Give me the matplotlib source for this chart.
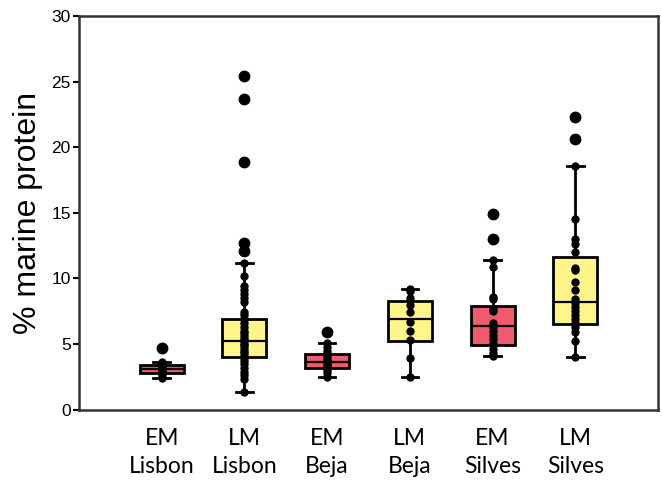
import matplotlib
matplotlib.use("Agg")
import matplotlib.pyplot as plt

# groups in plotting order
labels = ["EM\nLisbon", "LM\nLisbon", "EM\nBeja", "LM\nBeja", "EM\nSilves", "LM\nSilves"]
colors = ["#f05a6e", "#fff58a", "#f05a6e", "#fff58a", "#f05a6e", "#fff58a"]

# box summaries
q1 = [2.82, 3.97, 3.2, 5.19, 4.9, 6.55]
med = [3.1, 5.19, 3.66, 6.94, 6.35, 8.18]
q3 = [3.43, 6.94, 4.2, 8.24, 7.86, 11.6]
whislo = [2.44, 1.37, 2.5, 2.47, 4.05, 4.03]
whishi = [3.66, 11.2, 5.1, 9.2, 11.4, 18.6]
fliers = [
    [4.73],
    [12.1, 12.7, 18.9, 23.7, 25.4],
    [5.95],
    [],
    [13.0, 14.9],
    [20.6, 22.3],
]

# individual values inside the whiskers
points = [
    [2.44, 2.6, 2.75, 2.85, 2.95, 3.0, 3.05, 3.1, 3.15, 3.2, 3.3, 3.4, 3.5, 3.66],
    [1.37, 2.3, 2.6, 2.9, 3.2, 3.5, 3.7, 3.9, 4.1, 4.3, 4.5, 4.7, 4.9, 5.0, 5.2,
     5.4, 5.6, 5.8, 6.0, 6.3, 6.6, 6.9, 7.2, 7.4, 8.2, 8.5, 8.8, 9.1, 9.4, 10.2, 11.2],
    [2.5, 2.8, 3.0, 3.2, 3.4, 3.5, 3.6, 3.7, 3.8, 4.0, 4.2, 4.5, 4.8, 5.1],
    [2.47, 3.95, 5.3, 6.0, 6.7, 7.4, 8.0, 8.5, 9.0, 9.2],
    [4.05, 4.3, 4.6, 4.9, 5.1, 5.4, 5.7, 6.0, 6.3, 6.6, 7.5, 7.7, 8.4, 8.6, 10.9, 11.4],
    [4.03, 5.2, 5.9, 6.3, 6.6, 6.9, 7.2, 7.5, 7.8, 8.1, 8.4, 9.1, 9.7, 10.6, 10.8,
     12.0, 12.6, 13.0, 14.5, 18.6],
]

stats = []
for i in range(len(labels)):
    stats.append({"q1": q1[i], "med": med[i], "q3": q3[i],
                  "whislo": whislo[i], "whishi": whishi[i], "fliers": fliers[i]})

fig = plt.figure(figsize=(6.62, 4.83), dpi=100)
ax = fig.add_axes([0.1193, 0.152, 0.8747, 0.815])

pos = list(range(1, len(labels) + 1))
bp = ax.bxp(stats, positions=pos, widths=0.53, patch_artist=True,
            capwidths=0.2,
            boxprops=dict(linewidth=2, edgecolor="black"),
            medianprops=dict(color="black", linewidth=1.6),
            whiskerprops=dict(color="black", linewidth=2),
            capprops=dict(color="black", linewidth=2),
            flierprops=dict(marker="o", markerfacecolor="black",
                            markeredgecolor="black", markersize=7.5))
for patch, c in zip(bp["boxes"], colors):
    patch.set_facecolor(c)

for i, vals in enumerate(points):
    ax.plot([pos[i]] * len(vals), vals, "o", color="black", markersize=5, zorder=3)

ax.set_xlim(0, 7)
ax.set_ylim(0, 30)
ax.set_yticks([0, 5, 10, 15, 20, 25, 30])
ax.tick_params(axis="y", labelsize=12.5, length=4, width=1.5, pad=2)
ax.tick_params(axis="x", length=0, pad=13)
ax.set_xticks(pos)
ax.set_xticklabels(labels, fontsize=16.5, family="Lato", linespacing=1.45)
for lbl in ax.get_yticklabels():
    lbl.set_family("Liberation Sans")

ax.set_ylabel("% marine protein", fontsize=23, family="Liberation Sans", labelpad=6)

for s in ax.spines.values():
    s.set_linewidth(1.8)
    s.set_color("#333333")

fig.savefig("out.png", dpi=100)
